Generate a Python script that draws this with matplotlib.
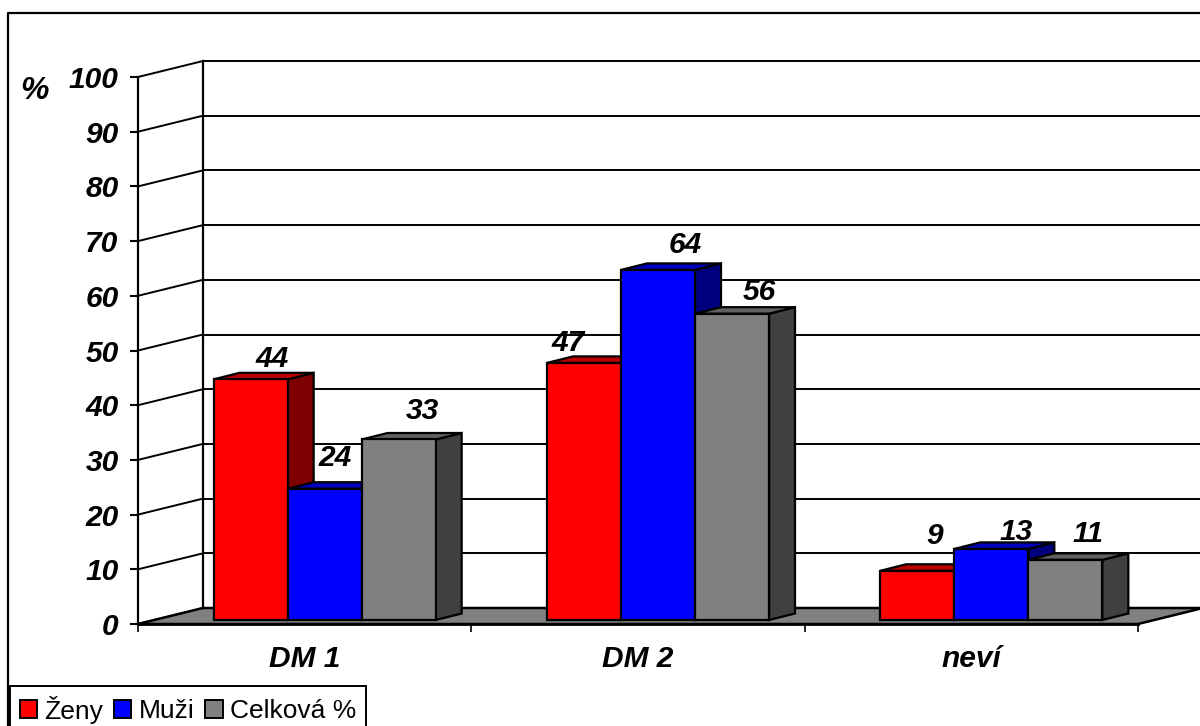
import matplotlib
matplotlib.use("Agg")
import matplotlib.pyplot as plt
from matplotlib.lines import Line2D
from matplotlib.patches import Patch, Polygon

plt.rcParams['font.family'] = ['Liberation Sans', 'DejaVu Sans']

#chart data
categories = ["DM 1", "DM 2", "neví"]
series_names = ["Ženy", "Muži", "Celková %"]
zeny = [44, 47, 9]
muzi = [24, 64, 13]
celkem = [33, 56, 11]
y_ticks = [0, 10, 20, 30, 40, 50, 60, 70, 80, 90, 100]

#colours: front, top, side
red = ["#ff0000", "#bf0000", "#7f0000"]
blue = ["#0000ff", "#0000bf", "#00007f"]
gray = ["#808080", "#606060", "#404040"]

W, H = 1200, 726
fig = plt.figure(figsize=(W / 100, H / 100), dpi=100, facecolor="white")
ax = fig.add_axes([138 / W, (H - 624) / H, 1000 / W, 547 / H])
ax.set_xlim(0, 3)
ax.set_ylim(0, 100)
ax.patch.set_visible(False)
for s in ax.spines.values():
    s.set_visible(False)

#3d offsets in data units
px_x = 3 / 1000
px_y = 100 / 547
wall_dx = 65 * px_x
wall_dy = 16 * px_y
bar_w = 74 * px_x
bar_dx = 26 * px_x
bar_dy = 6.5 * px_y
bar_x0 = 20 * px_x
bar_y0 = 4 * px_y

big = dict(fontsize=21.5, fontweight="bold", fontstyle="italic")


def poly(pts, color, z, lw=1.6):
    ax.add_patch(Polygon(pts, closed=True, facecolor=color, edgecolor="black",
                         linewidth=lw, joinstyle="miter", clip_on=False, zorder=z))


#floor
poly([(0, 0), (3, 0), (3 + wall_dx, wall_dy), (wall_dx, wall_dy)], "#808080", 2, lw=1.8)

#walls and gridlines
for v in y_ticks:
    ax.plot([0, wall_dx], [v, v + wall_dy], color="black", lw=1.4, clip_on=False, zorder=1)
    if v > 0:
        ax.plot([wall_dx, 3 + wall_dx], [v + wall_dy] * 2, color="black", lw=1.4,
                clip_on=False, zorder=1)
ax.plot([wall_dx, wall_dx], [wall_dy, 100 + wall_dy], color="black", lw=1.6, clip_on=False, zorder=1)
ax.plot([0, 0], [0, 100], color="black", lw=1.6, clip_on=False, zorder=3)
ax.plot([0, 3], [0, 0], color="black", lw=2, clip_on=False, zorder=3)


#bars, drawn left to right so each front face covers its neighbour's side
def bar(x, v, cols, z):
    b = bar_y0
    t = bar_y0 + v
    poly([(x + bar_w, t), (x + bar_w + bar_dx, t + bar_dy),
          (x + bar_w + bar_dx, b + bar_dy), (x + bar_w, b)], cols[2], z)
    poly([(x, t), (x + bar_dx, t + bar_dy), (x + bar_w + bar_dx, t + bar_dy),
          (x + bar_w, t)], cols[1], z)
    poly([(x, b), (x + bar_w, b), (x + bar_w, t), (x, t)], cols[0], z)


#label shift from top centre of the bar's front face, in pixels
label_shift = [[(21, 20), (10, 31), (24, 28)],
               [(-16, 20), (27, 25), (27, 22)],
               [(17, 35), (25, 17), (23, 26)]]

for i in range(3):
    left = i + 0.5 - 1.5 * bar_w + bar_x0
    for j, (vals, cols) in enumerate(zip([zeny, muzi, celkem], [red, blue, gray])):
        x = left + j * bar_w
        bar(x, vals[i], cols, 4 + i * 3 + j)
        ax.annotate(str(vals[i]), (x + bar_w / 2, bar_y0 + vals[i]),
                    xytext=label_shift[i][j], textcoords="offset pixels",
                    ha="center", va="center", zorder=30, annotation_clip=False, **big)

#axes ticks and labels
ax.set_yticks(y_ticks)
ax.set_yticklabels([str(v) for v in y_ticks], **big)
ax.set_xticks([0, 1, 2, 3])
ax.set_xticklabels([])
ax.set_xticks([0.5, 1.5, 2.5], minor=True)
ax.set_xticklabels(categories, minor=True, **big)
ax.tick_params(axis="y", length=6, width=1.5, pad=8)
ax.tick_params(axis="x", which="major", length=6, width=1.2)
ax.tick_params(axis="x", which="minor", length=0, pad=15)

fig.text(34 / W, 1 - 91 / H, "%", ha="center", va="center", fontsize=23,
         fontweight="bold", fontstyle="italic")

#outer chart border, cut by the right and bottom of the image
fig.add_artist(Line2D([8 / W, 8 / W, 1], [0, 1 - 13 / H, 1 - 13 / H], color="black", lw=1.6))

#legend
handles = [Patch(facecolor=c[0], edgecolor="black", linewidth=1.4) for c in [red, blue, gray]]
leg = fig.legend(handles, series_names, ncol=3, loc="lower left",
                 bbox_to_anchor=(10 / W, -7 / H), fontsize=19, frameon=True,
                 fancybox=False, framealpha=1, edgecolor="black",
                 handlelength=0.65, handleheight=0.65, handletextpad=0.3,
                 columnspacing=0.4, borderpad=0.36, borderaxespad=0)
leg.get_frame().set_linewidth(1.4)

fig.savefig("out.png", dpi=100)
